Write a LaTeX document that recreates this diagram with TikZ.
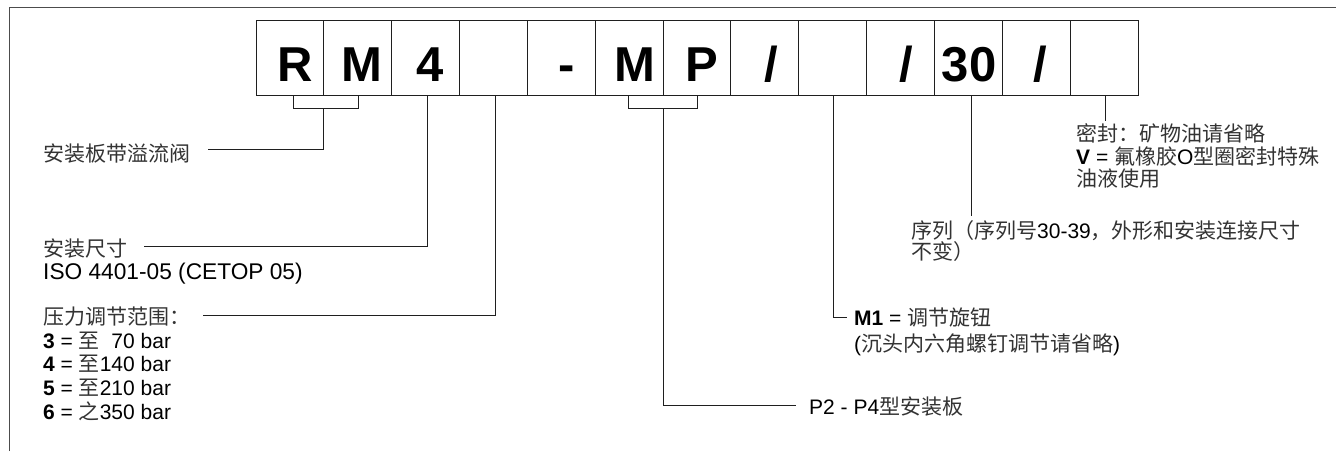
\documentclass[tikz,border=0pt]{standalone}
\usepackage{fontspec}
\setmainfont{Liberation Sans}
\newfontfamily\cjk{Noto Sans CJK SC}
\newcommand\zh[1]{{\cjk\color{black!80}#1}}
\usetikzlibrary{calc}
\begin{document}
\begin{tikzpicture}[x=1pt,y=-1pt,
  framecol/.style={draw=black!70, line width=1.5pt},
  codebox/.style={draw=black!88, line width=1pt, minimum width=67.85pt, minimum height=74.6pt, inner sep=0pt, outer sep=0pt},
  big/.style={font=\fontsize{49}{50}\selectfont\bfseries, inner sep=0pt, anchor=base},
  lbl/.style={font=\fontsize{21}{24}\selectfont, inner sep=0pt, anchor=base west},
  conn/.style={draw=black!88, line width=1pt}]
\useasboundingbox (0,0) rectangle (1336,451);
% frame
\draw[framecol] (9.3,451) -- (9.3,7.7) -- (1336,7.7);
% boxes
\foreach \i in {0,...,12}{
  \node[codebox] (b\i) at ({256+67.85*(\i+0.5)},58) {};
}
% box letters
\node[big] (t0) at (295.2,81) {R};
\node[big] (t1) at (362.2,81) {M};
\node[big] (t2) at (430,81) {4};
\node[big] (t4) at (566.7,81) {-};
\node[big] (t5) at (634.7,81) {M};
\node[big] (t6) at (702,81) {P};
\node[big] (t7) at (771,81) {/};
\node[big] (t9) at (906.7,81) {/};
\node[big] (t10) at (969,81) {30};
\node[big] (t11) at (1040.7,81) {/};
% labels
\node[lbl] (l1) at (43,161) {\zh{安装板带溢流阀}};
\node[lbl] (l2) at (43,256) {\zh{安装尺寸}};
\node[lbl, font=\fontsize{22.7}{24}\selectfont] (l2b) at (43,279.5) {ISO 4401-05 (CETOP 05)};
\node[lbl] (l3) at (43,324) {\zh{压力调节范围：}};
\node[lbl] (l3a) at (43,348) {\textbf{3} = \zh{至}\phantom{1}70 bar};
\node[lbl] (l3b) at (43,371.5) {\textbf{4} = \zh{至}140 bar};
\node[lbl] (l3c) at (43,395.5) {\textbf{5} = \zh{至}210 bar};
\node[lbl] (l3d) at (43,419.5) {\textbf{6} = \zh{之}350 bar};
\node[lbl] (l4) at (809,414.5) {P2 - P4\zh{型安装板}};
\node[lbl] (l5) at (854,325) {\textbf{M1} = \zh{调节旋钮}};
\node[lbl] (l5b) at (854,351) {(\zh{沉头内六角螺钉调节请省略})};
\node[lbl] (l6) at (911,238) {\zh{序列（序列号}30-39\zh{，外形和安装连接尺寸}};
\node[lbl] (l6b) at (911,259.5) {\zh{不变）}};
\node[lbl] (l7) at (1076,141) {\zh{密封：矿物油请省略}};
\node[lbl] (l7b) at (1076,164) {\textbf{V} = \zh{氟橡胶}O\zh{型圈密封特殊}};
\node[lbl] (l7c) at (1076,186) {\zh{油液使用}};
% connector ends
\coordinate (c1) at (208,149.3);
\coordinate (c2) at (144,246.7);
\coordinate (c3) at (203.3,315);
\coordinate (c4) at (796,405);
\coordinate (c5) at (846.7,317.7);
\coordinate (c6) at ($(b10.south)+(3,120.7)$);
\coordinate (c7) at ($(b12.south)+(1.5,25.4)$);
% RM bracket
\coordinate (k1) at ($(b0.south east)+(0,13)$);
\draw[conn] ($(b0.south)+(4,0)$) |- (k1) -| ($(b1.south)+(1,0)$);
\draw[conn] (k1) |- (c1);
% 4 and pressure
\draw[conn] ($(b2.south)+(2,0)$) |- (c2);
\draw[conn] ($(b3.south)+(2,0)$) |- (c3);
% MP bracket
\coordinate (k2) at ($(b5.south east)+(0,13)$);
\draw[conn] ($(b5.south)+(-1,0)$) |- (k2) -| (b6.south);
\draw[conn] (k2) |- (c4);
% M1
\draw[conn] ($(b8.south)+(1,0)$) |- (c5);
% series
\draw[conn] ($(b10.south)+(3,0)$) -- (c6);
% seal
\draw[conn] ($(b12.south)+(1.5,0)$) -- (c7);
\end{tikzpicture}
\end{document}
